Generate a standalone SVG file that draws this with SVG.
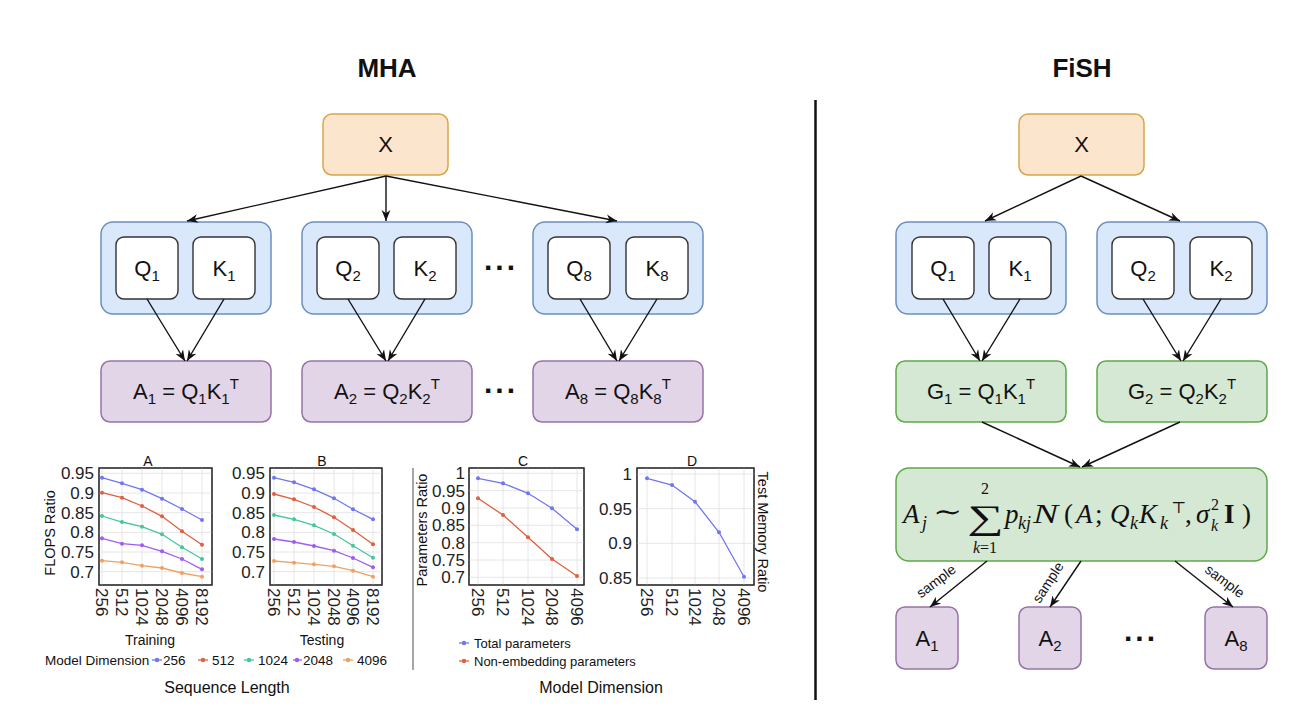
<svg xmlns="http://www.w3.org/2000/svg" width="1306" height="706" viewBox="0 0 1306 706">
<style>
text{font-family:"Liberation Sans",Arial,sans-serif;fill:#111}
.title{font-size:26px;font-weight:bold;text-anchor:middle}
.m{font-size:22px;text-anchor:middle}
.s{font-size:15px}
.xbox{fill:#fce5cd;stroke:#d6a84a;stroke-width:1.5}
.grp{fill:#dae8fc;stroke:#6c8ebf;stroke-width:1.5}
.wb{fill:#fff;stroke:#333;stroke-width:1.4}
.pur{fill:#e1d5e7;stroke:#9673a6;stroke-width:1.5}
.grn{fill:#d5e8d4;stroke:#5fa84a;stroke-width:1.5}
.con line{stroke:#111;stroke-width:1.4;marker-end:url(#arr)}
.dots{font-size:30px;font-weight:bold;letter-spacing:3px}
.smp{font-size:14px;text-anchor:middle}
.f{font-family:"Liberation Serif","DejaVu Serif",serif;font-size:27px;font-style:italic}
.fu{font-family:"Liberation Serif","DejaVu Serif",serif;font-size:27px}
.fs{font-family:"Liberation Serif","DejaVu Serif",serif;font-size:18px;font-style:italic}
.fss{font-family:"Liberation Serif","DejaVu Serif",serif;font-size:16px}
.plot{fill:#fff;stroke:#333;stroke-width:1.2}
.grid line{stroke:#e6e6e6;stroke-width:1}
.tk{font-size:17px;fill:#222}
.tr{text-anchor:end}
.ax{font-size:14.5px;fill:#111}
.ct{font-size:14px;text-anchor:middle}
.lg{font-size:13.5px}
.c256{stroke:#7076f0;fill:none;stroke-width:1.3}
.c512{stroke:#e0603f;fill:none;stroke-width:1.3}
.c1024{stroke:#45c79b;fill:none;stroke-width:1.3}
.c2048{stroke:#a05cf0;fill:none;stroke-width:1.3}
.c4096{stroke:#f0a060;fill:none;stroke-width:1.3}
.p256{fill:#7076f0}.p512{fill:#e0603f}.p1024{fill:#45c79b}.p2048{fill:#a05cf0}.p4096{fill:#f0a060}
</style>
<defs>
<marker id="arr" viewBox="0 0 10 10" markerWidth="11" markerHeight="11" markerUnits="userSpaceOnUse" refX="10" refY="5" orient="auto">
<path d="M0,1 L10,5 L0,9 L3,5 z" fill="#111"/>
</marker>
</defs>
<rect width="1306" height="706" fill="#fff"/>

<text class="title" x="387" y="77">MHA</text>
<text class="title" x="1082" y="77">FiSH</text>
<line x1="815.5" y1="100" x2="815.5" y2="700" stroke="#111" stroke-width="2.5"/>

<!-- MHA nodes -->
<g id="mha-x"><rect class="xbox" x="323" y="114" width="125" height="61" rx="9"/><text class="m" x="385.5" y="152">X</text></g>
<g id="mha-g1"><rect class="grp" x="101" y="222" width="170" height="92" rx="12"/></g>
<g id="mha-q1"><rect class="wb" x="116" y="237" width="62" height="62" rx="8"/><text class="m" x="147" y="276">Q<tspan class="s" dy="5">1</tspan></text></g>
<g id="mha-k1"><rect class="wb" x="193" y="237" width="62" height="62" rx="8"/><text class="m" x="224" y="276">K<tspan class="s" dy="5">1</tspan></text></g>
<g id="mha-g2"><rect class="grp" x="302" y="222" width="170" height="92" rx="12"/></g>
<g id="mha-q2"><rect class="wb" x="317" y="237" width="62" height="62" rx="8"/><text class="m" x="348" y="276">Q<tspan class="s" dy="5">2</tspan></text></g>
<g id="mha-k2"><rect class="wb" x="394" y="237" width="62" height="62" rx="8"/><text class="m" x="425" y="276">K<tspan class="s" dy="5">2</tspan></text></g>
<g id="mha-g8"><rect class="grp" x="533" y="222" width="170" height="92" rx="12"/></g>
<g id="mha-q8"><rect class="wb" x="548" y="237" width="62" height="62" rx="8"/><text class="m" x="579" y="276">Q<tspan class="s" dy="5">8</tspan></text></g>
<g id="mha-k8"><rect class="wb" x="626" y="237" width="62" height="62" rx="8"/><text class="m" x="657" y="276">K<tspan class="s" dy="5">8</tspan></text></g>
<g id="mha-a1"><rect class="pur" x="101" y="361" width="170" height="61" rx="9"/><text class="m" x="186" y="399">A<tspan class="s" dy="5">1</tspan><tspan dy="-5"> = Q</tspan><tspan class="s" dy="5">1</tspan><tspan dy="-5">K</tspan><tspan class="s" dy="5">1</tspan><tspan class="s" dy="-15">T</tspan></text></g>
<g id="mha-a2"><rect class="pur" x="302" y="361" width="170" height="61" rx="9"/><text class="m" x="387" y="399">A<tspan class="s" dy="5">2</tspan><tspan dy="-5"> = Q</tspan><tspan class="s" dy="5">2</tspan><tspan dy="-5">K</tspan><tspan class="s" dy="5">2</tspan><tspan class="s" dy="-15">T</tspan></text></g>
<g id="mha-a8"><rect class="pur" x="533" y="361" width="170" height="61" rx="9"/><text class="m" x="618" y="399">A<tspan class="s" dy="5">8</tspan><tspan dy="-5"> = Q</tspan><tspan class="s" dy="5">8</tspan><tspan dy="-5">K</tspan><tspan class="s" dy="5">8</tspan><tspan class="s" dy="-15">T</tspan></text></g>
<text class="dots" x="484" y="270">...</text>
<text class="dots" x="484" y="393">...</text>

<!-- FiSH nodes -->
<g id="fish-x"><rect class="xbox" x="1019" y="114" width="125" height="61" rx="9"/><text class="m" x="1081.5" y="152">X</text></g>
<g id="fish-g1"><rect class="grp" x="896" y="222" width="170" height="92" rx="12"/></g>
<g id="fish-q1"><rect class="wb" x="912" y="237" width="62" height="62" rx="8"/><text class="m" x="943" y="276">Q<tspan class="s" dy="5">1</tspan></text></g>
<g id="fish-k1"><rect class="wb" x="989" y="237" width="62" height="62" rx="8"/><text class="m" x="1020" y="276">K<tspan class="s" dy="5">1</tspan></text></g>
<g id="fish-g2"><rect class="grp" x="1097" y="222" width="170" height="92" rx="12"/></g>
<g id="fish-q2"><rect class="wb" x="1112" y="237" width="62" height="62" rx="8"/><text class="m" x="1143" y="276">Q<tspan class="s" dy="5">2</tspan></text></g>
<g id="fish-k2"><rect class="wb" x="1190" y="237" width="62" height="62" rx="8"/><text class="m" x="1221" y="276">K<tspan class="s" dy="5">2</tspan></text></g>
<g id="fish-gg1"><rect class="grn" x="896" y="361" width="170" height="61" rx="9"/><text class="m" x="981" y="399">G<tspan class="s" dy="5">1</tspan><tspan dy="-5"> = Q</tspan><tspan class="s" dy="5">1</tspan><tspan dy="-5">K</tspan><tspan class="s" dy="5">1</tspan><tspan class="s" dy="-15">T</tspan></text></g>
<g id="fish-gg2"><rect class="grn" x="1097" y="361" width="170" height="61" rx="9"/><text class="m" x="1182" y="399">G<tspan class="s" dy="5">2</tspan><tspan dy="-5"> = Q</tspan><tspan class="s" dy="5">2</tspan><tspan dy="-5">K</tspan><tspan class="s" dy="5">2</tspan><tspan class="s" dy="-15">T</tspan></text></g>
<g id="fish-mix">
<rect class="grn" x="896" y="468" width="371" height="93" rx="13"/>
<text class="f" x="903" y="523">A</text>
<text class="fs" x="922" y="529">j</text>
<text class="fu" transform="translate(933,521) scale(1.3,1)">∼</text>
<text class="fu" transform="translate(967,529) scale(1.5,1)" style="font-size:34px">∑</text>
<text class="fss" x="985" y="494" text-anchor="middle">2</text>
<text class="fss" x="985" y="553" text-anchor="middle"><tspan font-style="italic">k</tspan>=1</text>
<text class="f" x="1005" y="523">p</text>
<text class="fs" x="1018" y="529">kj</text>
<text class="f" transform="translate(1033,523) scale(1.4,1)">N</text>
<text class="fu" x="1064" y="523">(</text>
<text class="f" x="1076" y="523">A</text>
<text class="fu" x="1095" y="523">;</text>
<text class="f" x="1110" y="523">Q</text>
<text class="fs" x="1130" y="529">k</text>
<text class="f" x="1139" y="523">K</text>
<text class="fs" x="1160" y="529">k</text>
<text class="fss" x="1171" y="513">⊤</text>
<text class="fu" x="1185" y="523">,</text>
<text class="f" x="1196" y="523">σ</text>
<text class="fss" x="1211" y="510">2</text>
<text class="fss" x="1211" y="531" font-style="italic">k</text>
<text class="fu" x="1224" y="523" font-weight="bold">I</text>
<text class="fu" x="1242" y="523">)</text>
</g>
<g id="fish-a1"><rect class="pur" x="896" y="607" width="62" height="62" rx="9"/><text class="m" x="927" y="646">A<tspan class="s" dy="5">1</tspan></text></g>
<g id="fish-a2"><rect class="pur" x="1019" y="607" width="62" height="62" rx="9"/><text class="m" x="1050" y="646">A<tspan class="s" dy="5">2</tspan></text></g>
<g id="fish-a8"><rect class="pur" x="1205" y="607" width="62" height="62" rx="9"/><text class="m" x="1236" y="646">A<tspan class="s" dy="5">8</tspan></text></g>
<text class="dots" x="1124" y="641">...</text>

<!-- connectors -->
<g id="connectors" class="con">
<line x1="386" y1="176" x2="187" y2="221"/>
<line x1="386" y1="176" x2="386" y2="221"/>
<line x1="386" y1="176" x2="617" y2="221"/>
<line x1="147" y1="299" x2="185" y2="361"/>
<line x1="224" y1="299" x2="187" y2="361"/>
<line x1="348" y1="299" x2="386" y2="361"/>
<line x1="425" y1="299" x2="388" y2="361"/>
<line x1="580" y1="299" x2="617" y2="361"/>
<line x1="657" y1="299" x2="619" y2="361"/>
<line x1="1081" y1="176" x2="985" y2="221"/>
<line x1="1081" y1="176" x2="1180" y2="221"/>
<line x1="943" y1="299" x2="980" y2="361"/>
<line x1="1020" y1="299" x2="982" y2="361"/>
<line x1="1143" y1="299" x2="1181" y2="361"/>
<line x1="1221" y1="299" x2="1183" y2="361"/>
<line x1="982" y1="422" x2="1080" y2="467"/>
<line x1="1180" y1="422" x2="1082" y2="467"/>
<line x1="987" y1="561" x2="930" y2="607"/>
<line x1="1081" y1="561" x2="1050" y2="607"/>
<line x1="1175" y1="561" x2="1233" y2="607"/>
</g>
<text class="smp" transform="translate(939,585) rotate(-37)">sample</text>
<text class="smp" transform="translate(1052,585) rotate(-57)">sample</text>
<text class="smp" transform="translate(1222,585) rotate(37)">sample</text>

<!-- charts -->
<g id="chart-a">
<rect class="plot" x="99" y="468" width="113" height="117"/>
<g class="grid">
<line x1="99" y1="473.3" x2="212" y2="473.3"/><line x1="99" y1="493" x2="212" y2="493"/><line x1="99" y1="512.7" x2="212" y2="512.7"/><line x1="99" y1="532.3" x2="212" y2="532.3"/><line x1="99" y1="552" x2="212" y2="552"/><line x1="99" y1="571.7" x2="212" y2="571.7"/>
<line x1="102" y1="468" x2="102" y2="585"/><line x1="122" y1="468" x2="122" y2="585"/><line x1="142" y1="468" x2="142" y2="585"/><line x1="162" y1="468" x2="162" y2="585"/><line x1="182" y1="468" x2="182" y2="585"/><line x1="202" y1="468" x2="202" y2="585"/>
</g>
<rect x="99" y="468" width="113" height="117" fill="none" stroke="#333" stroke-width="1.2"/>
<polyline class="c256" points="102,477.7 122,483.3 142,489.7 162,498.7 182,509 202,520"/>
<polyline class="c512" points="102,492.7 122,497.7 142,506 162,516.3 182,531.3 202,544.7"/>
<polyline class="c1024" points="102,516 122,522 142,526.7 162,534.3 182,547.3 202,559"/>
<polyline class="c2048" points="102,538.3 122,543.7 142,545.3 162,551.3 182,559 202,569.3"/>
<polyline class="c4096" points="102,560.7 122,562.3 142,565.7 162,568 182,573 202,576.7"/>
<g class="p256"><circle cx="102" cy="477.7" r="2"/><circle cx="122" cy="483.3" r="2"/><circle cx="142" cy="489.7" r="2"/><circle cx="162" cy="498.7" r="2"/><circle cx="182" cy="509" r="2"/><circle cx="202" cy="520" r="2"/></g>
<g class="p512"><circle cx="102" cy="492.7" r="2"/><circle cx="122" cy="497.7" r="2"/><circle cx="142" cy="506" r="2"/><circle cx="162" cy="516.3" r="2"/><circle cx="182" cy="531.3" r="2"/><circle cx="202" cy="544.7" r="2"/></g>
<g class="p1024"><circle cx="102" cy="516" r="2"/><circle cx="122" cy="522" r="2"/><circle cx="142" cy="526.7" r="2"/><circle cx="162" cy="534.3" r="2"/><circle cx="182" cy="547.3" r="2"/><circle cx="202" cy="559" r="2"/></g>
<g class="p2048"><circle cx="102" cy="538.3" r="2"/><circle cx="122" cy="543.7" r="2"/><circle cx="142" cy="545.3" r="2"/><circle cx="162" cy="551.3" r="2"/><circle cx="182" cy="559" r="2"/><circle cx="202" cy="569.3" r="2"/></g>
<g class="p4096"><circle cx="102" cy="560.7" r="2"/><circle cx="122" cy="562.3" r="2"/><circle cx="142" cy="565.7" r="2"/><circle cx="162" cy="568" r="2"/><circle cx="182" cy="573" r="2"/><circle cx="202" cy="576.7" r="2"/></g>
<text class="ct" x="148" y="466">A</text>
<text class="tk tr" x="94" y="479.3">0.95</text><text class="tk tr" x="94" y="499">0.9</text><text class="tk tr" x="94" y="518.7">0.85</text><text class="tk tr" x="94" y="538.3">0.8</text><text class="tk tr" x="94" y="558">0.75</text><text class="tk tr" x="94" y="577.7">0.7</text>
<text class="tk" transform="translate(96,588) rotate(90)">256</text>
<text class="tk" transform="translate(116,588) rotate(90)">512</text>
<text class="tk" transform="translate(136,588) rotate(90)">1024</text>
<text class="tk" transform="translate(156,588) rotate(90)">2048</text>
<text class="tk" transform="translate(176,588) rotate(90)">4096</text>
<text class="tk" transform="translate(196,588) rotate(90)">8192</text>
<text class="ax" text-anchor="middle" transform="translate(55,533) rotate(-90)">FLOPS Ratio</text>
<text class="ct" x="150" y="645">Training</text>
</g>

<g id="chart-b">
<rect class="plot" x="270" y="468" width="112" height="117"/>
<g class="grid">
<line x1="270" y1="473.3" x2="382" y2="473.3"/><line x1="270" y1="493" x2="382" y2="493"/><line x1="270" y1="512.7" x2="382" y2="512.7"/><line x1="270" y1="532.3" x2="382" y2="532.3"/><line x1="270" y1="552" x2="382" y2="552"/><line x1="270" y1="571.7" x2="382" y2="571.7"/>
<line x1="274" y1="468" x2="274" y2="585"/><line x1="294" y1="468" x2="294" y2="585"/><line x1="314" y1="468" x2="314" y2="585"/><line x1="334" y1="468" x2="334" y2="585"/><line x1="353" y1="468" x2="353" y2="585"/><line x1="373" y1="468" x2="373" y2="585"/>
</g>
<rect x="270" y="468" width="112" height="117" fill="none" stroke="#333" stroke-width="1.2"/>
<polyline class="c256" points="274,477.7 294,482.3 314,489.3 334,498.3 353,509.3 373,519.3"/>
<polyline class="c512" points="274,494 294,499.3 314,507 334,517.3 353,530 373,544.3"/>
<polyline class="c1024" points="274,515 294,519.3 314,525.3 334,534 353,545.7 373,557.7"/>
<polyline class="c2048" points="274,539 294,542 314,546 334,550.7 353,558 373,567.3"/>
<polyline class="c4096" points="274,561 294,562.7 314,564.3 334,566.3 353,570.7 373,576.7"/>
<g class="p256"><circle cx="274" cy="477.7" r="2"/><circle cx="294" cy="482.3" r="2"/><circle cx="314" cy="489.3" r="2"/><circle cx="334" cy="498.3" r="2"/><circle cx="353" cy="509.3" r="2"/><circle cx="373" cy="519.3" r="2"/></g>
<g class="p512"><circle cx="274" cy="494" r="2"/><circle cx="294" cy="499.3" r="2"/><circle cx="314" cy="507" r="2"/><circle cx="334" cy="517.3" r="2"/><circle cx="353" cy="530" r="2"/><circle cx="373" cy="544.3" r="2"/></g>
<g class="p1024"><circle cx="274" cy="515" r="2"/><circle cx="294" cy="519.3" r="2"/><circle cx="314" cy="525.3" r="2"/><circle cx="334" cy="534" r="2"/><circle cx="353" cy="545.7" r="2"/><circle cx="373" cy="557.7" r="2"/></g>
<g class="p2048"><circle cx="274" cy="539" r="2"/><circle cx="294" cy="542" r="2"/><circle cx="314" cy="546" r="2"/><circle cx="334" cy="550.7" r="2"/><circle cx="353" cy="558" r="2"/><circle cx="373" cy="567.3" r="2"/></g>
<g class="p4096"><circle cx="274" cy="561" r="2"/><circle cx="294" cy="562.7" r="2"/><circle cx="314" cy="564.3" r="2"/><circle cx="334" cy="566.3" r="2"/><circle cx="353" cy="570.7" r="2"/><circle cx="373" cy="576.7" r="2"/></g>
<text class="ct" x="322" y="466">B</text>
<text class="tk tr" x="265" y="479.3">0.95</text><text class="tk tr" x="265" y="499">0.9</text><text class="tk tr" x="265" y="518.7">0.85</text><text class="tk tr" x="265" y="538.3">0.8</text><text class="tk tr" x="265" y="558">0.75</text><text class="tk tr" x="265" y="577.7">0.7</text>
<text class="tk" transform="translate(268,588) rotate(90)">256</text>
<text class="tk" transform="translate(288,588) rotate(90)">512</text>
<text class="tk" transform="translate(308,588) rotate(90)">1024</text>
<text class="tk" transform="translate(328,588) rotate(90)">2048</text>
<text class="tk" transform="translate(347,588) rotate(90)">4096</text>
<text class="tk" transform="translate(367,588) rotate(90)">8192</text>
<text class="ct" x="322" y="645">Testing</text>
</g>

<g id="legend-ab">
<text class="lg" x="45" y="665">Model Dimension</text>
<line x1="152" y1="660" x2="162" y2="660" class="c256"/><circle cx="157" cy="660" r="2.2" class="p256"/><text class="lg" x="163" y="665">256</text>
<line x1="198" y1="660" x2="208" y2="660" class="c512"/><circle cx="203" cy="660" r="2.2" class="p512"/><text class="lg" x="212" y="665">512</text>
<line x1="244" y1="660" x2="254" y2="660" class="c1024"/><circle cx="249" cy="660" r="2.2" class="p1024"/><text class="lg" x="258" y="665">1024</text>
<line x1="293" y1="660" x2="302" y2="660" class="c2048"/><circle cx="297" cy="660" r="2.2" class="p2048"/><text class="lg" x="303" y="665">2048</text>
<line x1="343" y1="660" x2="353" y2="660" class="c4096"/><circle cx="348" cy="660" r="2.2" class="p4096"/><text class="lg" x="357" y="665">4096</text>
<text x="227" y="693" font-size="16" text-anchor="middle">Sequence Length</text>
</g>

<line x1="413" y1="468" x2="413" y2="670" stroke="#888" stroke-width="1.5"/>

<g id="chart-c">
<rect class="plot" x="469" y="468" width="115" height="117"/>
<g class="grid">
<line x1="469" y1="473.3" x2="584" y2="473.3"/><line x1="469" y1="490.7" x2="584" y2="490.7"/><line x1="469" y1="508" x2="584" y2="508"/><line x1="469" y1="525.3" x2="584" y2="525.3"/><line x1="469" y1="542.7" x2="584" y2="542.7"/><line x1="469" y1="560" x2="584" y2="560"/><line x1="469" y1="577.3" x2="584" y2="577.3"/>
<line x1="478" y1="468" x2="478" y2="585"/><line x1="503" y1="468" x2="503" y2="585"/><line x1="528" y1="468" x2="528" y2="585"/><line x1="552" y1="468" x2="552" y2="585"/><line x1="577" y1="468" x2="577" y2="585"/>
</g>
<rect x="469" y="468" width="115" height="117" fill="none" stroke="#333" stroke-width="1.2"/>
<polyline class="c256" points="478,478.3 503,483.3 528,493.3 552,508.3 577,529.3"/>
<polyline class="c512" points="478,498.3 503,515 528,537.3 552,559 577,576"/>
<g class="p256"><circle cx="478" cy="478.3" r="2"/><circle cx="503" cy="483.3" r="2"/><circle cx="528" cy="493.3" r="2"/><circle cx="552" cy="508.3" r="2"/><circle cx="577" cy="529.3" r="2"/></g>
<g class="p512"><circle cx="478" cy="498.3" r="2"/><circle cx="503" cy="515" r="2"/><circle cx="528" cy="537.3" r="2"/><circle cx="552" cy="559" r="2"/><circle cx="577" cy="576" r="2"/></g>
<text class="ct" x="523" y="466">C</text>
<text class="tk tr" x="465" y="479.3">1</text><text class="tk tr" x="465" y="496.7">0.95</text><text class="tk tr" x="465" y="514">0.9</text><text class="tk tr" x="465" y="531.3">0.85</text><text class="tk tr" x="465" y="548.7">0.8</text><text class="tk tr" x="465" y="566">0.75</text><text class="tk tr" x="465" y="583.3">0.7</text>
<text class="tk" transform="translate(472,588) rotate(90)">256</text>
<text class="tk" transform="translate(497,588) rotate(90)">512</text>
<text class="tk" transform="translate(522,588) rotate(90)">1024</text>
<text class="tk" transform="translate(546,588) rotate(90)">2048</text>
<text class="tk" transform="translate(571,588) rotate(90)">4096</text>
<text class="ax" text-anchor="middle" transform="translate(427,530) rotate(-90)">Parameters Ratio</text>
</g>

<g id="chart-d">
<rect class="plot" x="637" y="468" width="117" height="117"/>
<g class="grid">
<line x1="637" y1="474" x2="754" y2="474"/><line x1="637" y1="508.7" x2="754" y2="508.7"/><line x1="637" y1="543.3" x2="754" y2="543.3"/><line x1="637" y1="578" x2="754" y2="578"/>
<line x1="647" y1="468" x2="647" y2="585"/><line x1="672" y1="468" x2="672" y2="585"/><line x1="695" y1="468" x2="695" y2="585"/><line x1="719" y1="468" x2="719" y2="585"/><line x1="744" y1="468" x2="744" y2="585"/>
</g>
<rect x="637" y="468" width="117" height="117" fill="none" stroke="#333" stroke-width="1.2"/>
<polyline class="c256" points="647,478.3 672,485 695,501.7 719,532.3 744,576.7"/>
<g class="p256"><circle cx="647" cy="478.3" r="2"/><circle cx="672" cy="485" r="2"/><circle cx="695" cy="501.7" r="2"/><circle cx="719" cy="532.3" r="2"/><circle cx="744" cy="576.7" r="2"/></g>
<text class="ct" x="692" y="466">D</text>
<text class="tk tr" x="632" y="480">1</text><text class="tk tr" x="632" y="514.7">0.95</text><text class="tk tr" x="632" y="549.3">0.9</text><text class="tk tr" x="632" y="584">0.85</text>
<text class="tk" transform="translate(641,588) rotate(90)">256</text>
<text class="tk" transform="translate(666,588) rotate(90)">512</text>
<text class="tk" transform="translate(689,588) rotate(90)">1024</text>
<text class="tk" transform="translate(713,588) rotate(90)">2048</text>
<text class="tk" transform="translate(738,588) rotate(90)">4096</text>
<text class="ax" text-anchor="middle" transform="translate(758,532) rotate(90)">Test Memory Ratio</text>
</g>

<g id="legend-cd">
<line x1="459" y1="643" x2="469" y2="643" class="c256"/><circle cx="464" cy="643" r="2.2" class="p256"/><text class="lg" x="474" y="648" style="font-size:13px">Total parameters</text>
<line x1="459" y1="661" x2="469" y2="661" class="c512"/><circle cx="464" cy="661" r="2.2" class="p512"/><text class="lg" x="474" y="666" style="font-size:13px">Non-embedding parameters</text>
<text x="601" y="693" font-size="16" text-anchor="middle">Model Dimension</text>
</g>
</svg>
